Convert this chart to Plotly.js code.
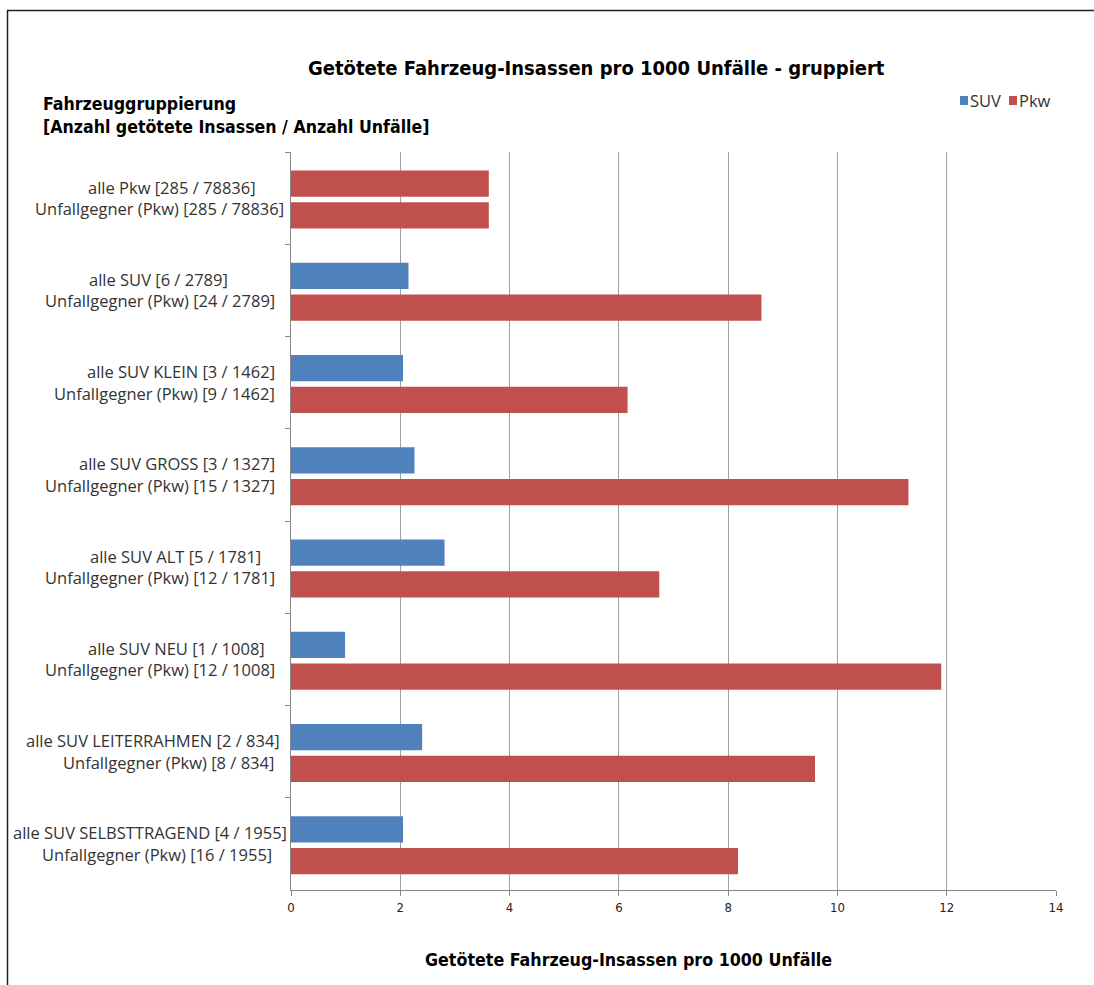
<!DOCTYPE html>
<html>
<head>
<meta charset="utf-8">
<script src="https://cdn.plot.ly/plotly-3.0.1.min.js"></script>
<style>
  html, body { margin: 0; padding: 0; background: #fff; overflow: hidden; }
  #chart { width: 1094px; height: 985px; }
</style>
</head>
<body>
<div id="chart"></div>
<script>
// ---- data ----
const categories = [
  'alle Pkw', 'alle SUV', 'alle SUV KLEIN', 'alle SUV GROSS',
  'alle SUV ALT', 'alle SUV NEU', 'alle SUV LEITERRAHMEN', 'alle SUV SELBSTTRAGEND'
];
const labelLine1 = [
  'alle Pkw [285 / 78836]', 'alle SUV [6 / 2789]', 'alle SUV KLEIN [3 / 1462]',
  'alle SUV GROSS [3 / 1327]', 'alle SUV ALT [5 / 1781]', 'alle SUV NEU [1 / 1008]',
  'alle SUV LEITERRAHMEN [2 / 834]', 'alle SUV SELBSTTRAGEND [4 / 1955]'
];
const labelLine2 = [
  'Unfallgegner (Pkw) [285 / 78836]', 'Unfallgegner (Pkw) [24 / 2789]',
  'Unfallgegner (Pkw) [9 / 1462]', 'Unfallgegner (Pkw) [15 / 1327]',
  'Unfallgegner (Pkw) [12 / 1781]', 'Unfallgegner (Pkw) [12 / 1008]',
  'Unfallgegner (Pkw) [8 / 834]', 'Unfallgegner (Pkw) [16 / 1955]'
];
// "alle ..." bar (top bar of each group); first group is Pkw itself
const allePkwValues = [3.62, null, null, null, null, null, null, null];
const suvValues     = [null, 2.15, 2.05, 2.26, 2.81, 0.99, 2.40, 2.05];
// "Unfallgegner (Pkw)" bar (bottom bar of each group)
const pkwValues     = [3.62, 8.61, 6.16, 11.30, 6.74, 11.90, 9.59, 8.18];
const xTickVals = [0, 2, 4, 6, 8, 10, 12, 14];

const titleText  = 'Getötete Fahrzeug-Insassen pro 1000 Unfälle - gruppiert';
const yTitleLines = ['Fahrzeuggruppierung', '[Anzahl getötete Insassen / Anzahl Unfälle]'];
const xTitleText = 'Getötete Fahrzeug-Insassen pro 1000 Unfälle';
const legendNames = ['SUV', 'Pkw'];

// ---- styling ----
const BLUE = '#4F81BD', RED = '#C0504D';
const L = 291, R = 38, T = 152, B = 95, W = 1094, H = 985;
const PW = W - L - R, PH = H - T - B;
const px2x = p => (p - L) / PW;
const py2y = p => (H - B - p) / PH;
const condBold = '"Liberation Sans Narrow", "DejaVu Sans Condensed", Roboto, sans-serif';
const labelFont = '"Open Sans", "Noto Sans", sans-serif';
const LABEL_SIZE = 16.5;

// right edge (pixels) of each label line, as in the original
const line1Right = [257, 229, 276, 276, 262, 266, 281, 288];
const line2Right = [285, 276, 276, 276, 276, 276, 275, 273];

const TOP_OFF = -0.30, BOT_OFF = 0.045, BW = 0.285;

const traces = [
  { type: 'bar', orientation: 'h', name: legendNames[0], y: categories, x: suvValues,
    offset: TOP_OFF, width: BW, marker: { color: BLUE }, showlegend: false, hoverinfo: 'x+y' },
  { type: 'bar', orientation: 'h', name: legendNames[1], y: categories, x: allePkwValues,
    offset: TOP_OFF, width: BW, marker: { color: RED }, showlegend: false, hoverinfo: 'x+y' },
  { type: 'bar', orientation: 'h', name: legendNames[1], y: categories, x: pkwValues,
    offset: BOT_OFF, width: BW, marker: { color: RED }, showlegend: false, hoverinfo: 'x+y' }
];

const annotations = [];
categories.forEach((c, i) => {
  annotations.push({ xref: 'paper', yref: 'y', x: 0, y: c, xanchor: 'right', yanchor: 'middle',
    xshift: line1Right[i] - L, yshift: 11, showarrow: false, text: labelLine1[i],
    font: { family: labelFont, size: LABEL_SIZE, color: '#333' }, borderpad: 0 });
  annotations.push({ xref: 'paper', yref: 'y', x: 0, y: c, xanchor: 'right', yanchor: 'middle',
    xshift: line2Right[i] - L, yshift: -10.5, showarrow: false, text: labelLine2[i],
    font: { family: labelFont, size: LABEL_SIZE, color: '#333' }, borderpad: 0 });
});
// titles
annotations.push({ xref: 'paper', yref: 'paper', x: px2x(596), y: py2y(68), xanchor: 'center', yanchor: 'middle',
  showarrow: false, text: '<b>' + titleText + '</b>', font: { family: condBold, size: 20, color: '#000' } });
annotations.push({ xref: 'paper', yref: 'paper', x: px2x(41), y: py2y(116), xanchor: 'left', yanchor: 'middle',
  align: 'left', showarrow: false, text: yTitleLines.map(s => '<b>' + s + '</b>').join('<br>'),
  font: { family: condBold, size: 17.6, color: '#000' } });
annotations.push({ xref: 'paper', yref: 'paper', x: px2x(628), y: py2y(960), xanchor: 'center', yanchor: 'middle',
  showarrow: false, text: '<b>' + xTitleText + '</b>', font: { family: condBold, size: 17.7, color: '#000' } });
// legend texts
annotations.push({ xref: 'paper', yref: 'paper', x: px2x(969), y: py2y(100), xanchor: 'left', yanchor: 'middle',
  showarrow: false, text: legendNames[0], font: { family: labelFont, size: LABEL_SIZE, color: '#333' }, borderpad: 0 });
annotations.push({ xref: 'paper', yref: 'paper', x: px2x(1018), y: py2y(100), xanchor: 'left', yanchor: 'middle',
  showarrow: false, text: legendNames[1], font: { family: labelFont, size: LABEL_SIZE, color: '#333' }, borderpad: 0 });

const shapes = [
  { type: 'rect', xref: 'paper', yref: 'paper', x0: px2x(960), x1: px2x(968), y0: py2y(105), y1: py2y(96),
    fillcolor: BLUE, line: { width: 0 } },
  { type: 'rect', xref: 'paper', yref: 'paper', x0: px2x(1009), x1: px2x(1017), y0: py2y(105), y1: py2y(96),
    fillcolor: RED, line: { width: 0 } },
  // outer frame (left and top edges of the original chart border)
  { type: 'line', xref: 'paper', yref: 'paper', x0: px2x(7.5), x1: px2x(7.5), y0: py2y(10), y1: py2y(990),
    line: { color: '#222', width: 1.5 } },
  { type: 'line', xref: 'paper', yref: 'paper', x0: px2x(7), x1: px2x(1100), y0: py2y(10.5), y1: py2y(10.5),
    line: { color: '#222', width: 1.5 } }
];

const layout = {
  width: W, height: H,
  margin: { l: L, r: R, t: T, b: B, pad: 0 },
  paper_bgcolor: '#fff', plot_bgcolor: '#fff',
  barmode: 'overlay',
  showlegend: false,
  xaxis: {
    range: [0, 14], tickvals: xTickVals, ticktext: xTickVals.map(String),
    showgrid: true, gridcolor: '#a0a0a0', gridwidth: 1, zeroline: false,
    showline: true, linecolor: '#888', linewidth: 1,
    ticks: 'outside', ticklen: 5, tickcolor: '#888',
    tickfont: { family: '"Liberation Sans Narrow", "DejaVu Sans Condensed", Roboto, sans-serif', size: 13, color: '#222' },
    fixedrange: true
  },
  yaxis: {
    type: 'category', categoryorder: 'array', categoryarray: categories,
    autorange: 'reversed', showticklabels: false, showgrid: false, zeroline: false,
    showline: true, linecolor: '#888', linewidth: 1,
    ticks: 'outside', ticklen: 5, tickcolor: '#888', tickson: 'boundaries',
    fixedrange: true
  },
  annotations: annotations,
  shapes: shapes
};

Plotly.newPlot('chart', traces, layout, { displayModeBar: false, staticPlot: true });
</script>
</body>
</html>
